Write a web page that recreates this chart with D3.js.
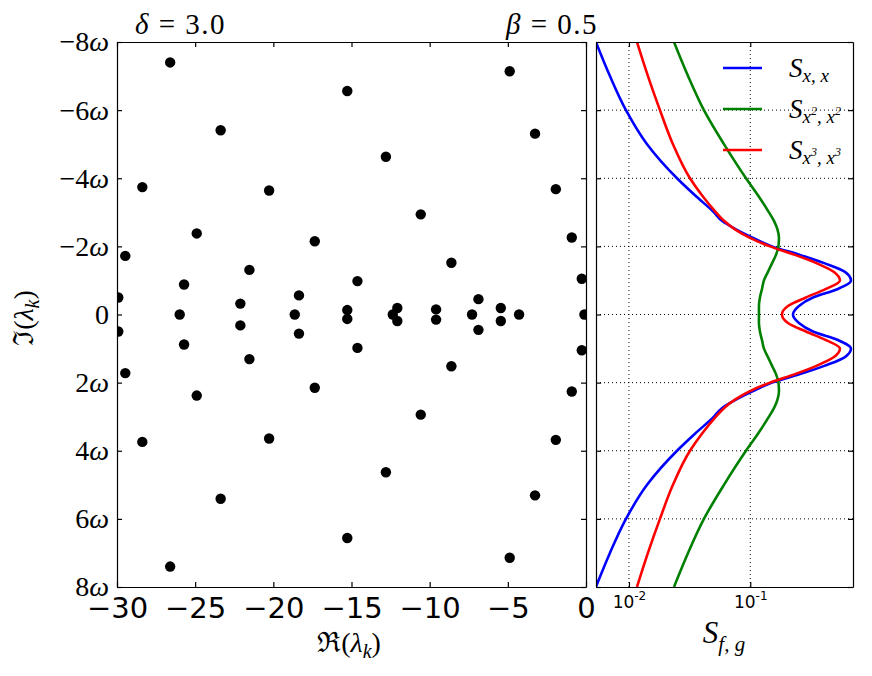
<!DOCTYPE html>
<html>
<head>
<meta charset="utf-8">
<script src="https://cdn.jsdelivr.net/npm/d3@7/dist/d3.min.js"></script>
<style>
	body { margin: 0; background: #fff; }
	.axis path, .axis line { stroke: #000; stroke-width: 1.2; }
	.grid line { stroke: #000; stroke-width: 1; stroke-dasharray: 1,3; }
</style>
</head>
<body>
<div id="chart-area"></div>
<script>
// Eigenvalues: real parts and imaginary parts (in units of omega)
var eigRe = [-25.99, -18.63, -12.36, -7.29, -4.28, -0.10,
	-26.6, -26.6, -23.37, -23.37, -28.38, -28.38, -20.27, -20.27,
	-24.9, -24.9, -17.35, -17.35, -29.47, -29.47, -21.53, -21.53,
	-14.62, -14.62, -25.71, -25.71, -18.36, -18.36, -29.92, -29.92,
	-22.11, -22.11, -15.27, -15.27, -12.07, -12.07, -15.27, -15.27,
	-12.8, -12.8, -4.88, -4.88, -3.26, -3.26, -1.93, -1.93,
	-10.57, -10.57, -0.91, -0.91, -8.61, -8.61, -0.27, -0.27,
	-6.88, -6.88, -9.59, -9.59, -5.45, -5.45];
var eigIm = [0, 0, 0, 0, 0, 0,
	-7.40, 7.40, -5.41, 5.41, -3.74, 3.74, -3.64, 3.64,
	-2.38, 2.38, -2.15, 2.15, -1.72, 1.72, -1.31, 1.31,
	-0.98, 0.98, -0.88, 0.88, -0.56, 0.56, -0.50, 0.50,
	-0.32, 0.32, -0.13, 0.13, -0.19, 0.19, -6.56, 6.56,
	-4.63, 4.63, -7.14, 7.14, -5.31, 5.31, -3.68, 3.68,
	-2.94, 2.94, -2.26, 2.26, -1.52, 1.52, -1.05, 1.05,
	-0.45, 0.45, -0.15, 0.15, -0.19, 0.19];

// Spectral densities sampled along the frequency axis
var freq = [-8, -7, -6, -5, -4, -3.5, -3, -2.75, -2.5, -2.25, -2, -1.75, -1.5, -1.25, -1, -0.75, -0.5, -0.25,
	0, 0.25, 0.5, 0.75, 1, 1.25, 1.5, 1.75, 2, 2.25, 2.5, 2.75, 3, 3.5, 4, 5, 6, 7, 8];
var sXX = [0.00534, 0.00697, 0.00945, 0.0141, 0.0249, 0.0350, 0.0502, 0.0584, 0.0762, 0.1053, 0.1510, 0.2569, 0.4127, 0.6035, 0.6763, 0.5284, 0.3287, 0.2521,
	0.2249, 0.2521, 0.3287, 0.5284, 0.6763, 0.6035, 0.4127, 0.2569, 0.1510, 0.1053, 0.0762, 0.0584, 0.0502, 0.0350, 0.0249, 0.0141, 0.00945, 0.00697, 0.00534];
var sX2X2 = [0.0235, 0.0307, 0.0415, 0.0607, 0.0922, 0.1157, 0.1426, 0.1568, 0.1676, 0.1724, 0.1708, 0.1629, 0.1510, 0.1399, 0.1297, 0.1249, 0.1202, 0.1179,
	0.1179, 0.1179, 0.1202, 0.1249, 0.1297, 0.1399, 0.1510, 0.1629, 0.1708, 0.1724, 0.1676, 0.1568, 0.1426, 0.1157, 0.0922, 0.0607, 0.0415, 0.0307, 0.0235];
var sX3X3 = [0.01164, 0.01434, 0.01801, 0.02305, 0.03184, 0.03996, 0.05214, 0.0607, 0.0748, 0.0994, 0.1454, 0.2336, 0.3548, 0.4898, 0.5489, 0.4208, 0.2879, 0.2046,
	0.1825, 0.2046, 0.2879, 0.4208, 0.5489, 0.4898, 0.3548, 0.2336, 0.1454, 0.0994, 0.0748, 0.0607, 0.05214, 0.03996, 0.03184, 0.02305, 0.01801, 0.01434, 0.01164];

var xTicks = [-30, -25, -20, -15, -10, -5, 0];
var yTicks = [-8, -6, -4, -2, 0, 2, 4, 6, 8];
var logTicks = [0.01, 0.1];
var logTickExp = ["-2", "-1"];

var series = [
	{ name: "xx", values: sXX, color: "#0000ff" },
	{ name: "x2x2", values: sX2X2, color: "#008000" },
	{ name: "x3x3", values: sX3X3, color: "#ff0000" }
];

var serif = "'Liberation Serif', 'DejaVu Serif', serif";
var sans = "'DejaVu Sans', sans-serif";

// Panel geometry
var plotTop = 42, plotBottom = 587;
var left1 = 117, right1 = 586;
var left2 = 596, right2 = 853;

var svg = d3.select("#chart-area")
	.append("svg")
		.attr("width", 872)
		.attr("height", 676);

// Scales
var x = d3.scaleLinear().domain([-30, 0]).range([left1, right1]);
var y = d3.scaleLinear().domain([-8, 8]).range([plotTop, plotBottom]);
var xs = d3.scaleLog().domain([0.00535, 0.703]).range([left2, right2]);

// Clip paths
var defs = svg.append("defs");
defs.append("clipPath").attr("id", "clip1")
	.append("rect")
		.attr("x", left1).attr("y", plotTop)
		.attr("width", right1 - left1).attr("height", plotBottom - plotTop);
defs.append("clipPath").attr("id", "clip2")
	.append("rect")
		.attr("x", left2).attr("y", plotTop)
		.attr("width", right2 - left2).attr("height", plotBottom - plotTop);

// ---- Left panel: eigenvalues ----
var pts = d3.range(eigRe.length).map(function(i) {
	return { re: eigRe[i], im: eigIm[i] };
});

svg.append("g")
	.attr("clip-path", "url(#clip1)")
	.selectAll("circle")
	.data(pts)
	.enter()
	.append("circle")
		.attr("cx", function(d) { return x(d.re); })
		.attr("cy", function(d) { return y(d.im); })
		.attr("r", 5.2)
		.attr("fill", "#000");

function minus(v) {
	return v < 0 ? "\u2212" + Math.abs(v) : String(v);
}

var xAxisCall = d3.axisBottom(x).tickValues(xTicks).tickSize(-5).tickSizeOuter(0)
	.tickPadding(10).tickFormat(minus);
var gx = svg.append("g")
	.attr("class", "axis")
	.attr("transform", "translate(0," + plotBottom + ")")
	.call(xAxisCall);
gx.selectAll("text")
	.attr("font-family", sans)
	.attr("font-size", 29)
	.attr("fill", "#000");

svg.append("g")
	.attr("class", "axis")
	.attr("transform", "translate(0," + plotTop + ")")
	.call(d3.axisTop(x).tickValues(xTicks).tickSize(-5).tickSizeOuter(0).tickFormat(""));

var gy = svg.append("g")
	.attr("class", "axis")
	.attr("transform", "translate(" + left1 + ",0)")
	.call(d3.axisLeft(y).tickValues(yTicks).tickSize(-5).tickSizeOuter(0).tickPadding(8));
gy.selectAll(".tick text").each(function(d) {
	var t = d3.select(this).text(null)
		.attr("font-family", serif)
		.attr("font-size", 28)
		.attr("fill", "#000");
	if (d === 0) { t.text("0"); return; }
	t.append("tspan").text(minus(d));
	t.append("tspan").attr("font-style", "italic").text("\u03c9");
});

svg.append("g")
	.attr("class", "axis")
	.attr("transform", "translate(" + right1 + ",0)")
	.call(d3.axisRight(y).tickValues(yTicks).tickSize(-5).tickSizeOuter(0).tickFormat(""));

// Titles above left panel
var t1 = svg.append("text")
	.attr("x", 135).attr("y", 34)
	.attr("font-family", serif).attr("font-size", 29)
	.attr("letter-spacing", 1.5);
t1.append("tspan").attr("font-style", "italic").text("\u03b4");
t1.append("tspan").text(" = 3.0");

var t2 = svg.append("text")
	.attr("x", 598).attr("y", 34)
	.attr("text-anchor", "end")
	.attr("font-family", serif).attr("font-size", 29)
	.attr("letter-spacing", 1.5);
t2.append("tspan").attr("font-style", "italic").text("\u03b2");
t2.append("tspan").text(" = 0.5");

// Axis labels
var xl = svg.append("text")
	.attr("x", 349).attr("y", 652)
	.attr("text-anchor", "middle")
	.attr("font-family", serif).attr("font-size", 28);
xl.append("tspan").text("\u211c(");
xl.append("tspan").attr("font-style", "italic").text("\u03bb");
xl.append("tspan").attr("font-style", "italic").attr("font-size", 20).attr("dy", 6).text("k");
xl.append("tspan").attr("dy", -6).text(")");

var yl = svg.append("text")
	.attr("transform", "translate(33,318) rotate(-90)")
	.attr("text-anchor", "middle")
	.attr("font-family", serif).attr("font-size", 28);
yl.append("tspan").text("\u2111(");
yl.append("tspan").attr("font-style", "italic").text("\u03bb");
yl.append("tspan").attr("font-style", "italic").attr("font-size", 20).attr("dy", 6).text("k");
yl.append("tspan").attr("dy", -6).text(")");

// ---- Right panel: spectral densities ----
var grid = svg.append("g").attr("class", "grid");
grid.selectAll("line.v")
	.data(logTicks)
	.enter()
	.append("line")
		.attr("class", "v")
		.attr("x1", function(d) { return xs(d); })
		.attr("x2", function(d) { return xs(d); })
		.attr("y1", plotTop).attr("y2", plotBottom);
grid.selectAll("line.h")
	.data(yTicks.slice(1, -1))
	.enter()
	.append("line")
		.attr("class", "h")
		.attr("x1", left2).attr("x2", right2)
		.attr("y1", function(d) { return y(d); })
		.attr("y2", function(d) { return y(d); });

var line = d3.line()
	.x(function(d) { return xs(d[0]); })
	.y(function(d) { return y(d[1]); })
	.curve(d3.curveMonotoneY);

svg.append("g")
	.attr("clip-path", "url(#clip2)")
	.selectAll("path")
	.data(series)
	.enter()
	.append("path")
		.attr("d", function(s) {
			return line(s.values.map(function(v, i) { return [v, freq[i]]; }));
		})
		.attr("fill", "none")
		.attr("stroke", function(s) { return s.color; })
		.attr("stroke-width", 2.6);

var gxs = svg.append("g")
	.attr("class", "axis")
	.attr("transform", "translate(0," + plotBottom + ")")
	.call(d3.axisBottom(xs).tickValues(logTicks).tickSize(-5).tickSizeOuter(0).tickPadding(9));
gxs.selectAll(".tick text").each(function(d, i) {
	var t = d3.select(this).text(null)
		.attr("font-family", sans)
		.attr("font-size", 17)
		.attr("fill", "#000");
	t.append("tspan").text("10");
	t.append("tspan").attr("font-size", 12).attr("dy", "-0.7em").text(logTickExp[i]);
});

svg.append("g")
	.attr("class", "axis")
	.attr("transform", "translate(0," + plotTop + ")")
	.call(d3.axisTop(xs).tickValues(logTicks).tickSize(-5).tickSizeOuter(0).tickFormat(""));
svg.append("g")
	.attr("class", "axis")
	.attr("transform", "translate(" + left2 + ",0)")
	.call(d3.axisLeft(y).tickValues(yTicks).tickSize(-5).tickSizeOuter(0).tickFormat(""));
svg.append("g")
	.attr("class", "axis")
	.attr("transform", "translate(" + right2 + ",0)")
	.call(d3.axisRight(y).tickValues(yTicks).tickSize(-5).tickSizeOuter(0).tickFormat(""));

var sl = svg.append("text")
	.attr("x", 724).attr("y", 643)
	.attr("text-anchor", "middle")
	.attr("font-family", serif).attr("font-size", 31);
sl.append("tspan").attr("font-style", "italic").text("S");
sl.append("tspan").attr("font-style", "italic").attr("font-size", 21).attr("dy", 8).text("f, g");

// Legend
var legendRows = [
	{ base: "x", sup: "" },
	{ base: "x", sup: "2" },
	{ base: "x", sup: "3" }
];
var legend = svg.append("g");
series.forEach(function(s, i) {
	var ly = 68 + i * 41;
	legend.append("line")
		.attr("x1", 723).attr("x2", 762)
		.attr("y1", ly).attr("y2", ly)
		.attr("stroke", s.color)
		.attr("stroke-width", 2.6);
	var r = legendRows[i];
	var lt = legend.append("text")
		.attr("x", 789).attr("y", ly + 9)
		.attr("font-family", serif).attr("font-size", 27)
		.attr("font-style", "italic");
	lt.append("tspan").text("S");
	lt.append("tspan").attr("font-size", 19).attr("dy", 5).text(r.base);
	if (r.sup) {
		lt.append("tspan").attr("font-size", 12).attr("dy", -8).text(r.sup);
		lt.append("tspan").attr("font-size", 19).attr("dy", 8).text(", " + r.base);
		lt.append("tspan").attr("font-size", 12).attr("dy", -8).text(r.sup);
	} else {
		lt.append("tspan").attr("font-size", 19).text(", " + r.base);
	}
});
</script>
</body>
</html>
